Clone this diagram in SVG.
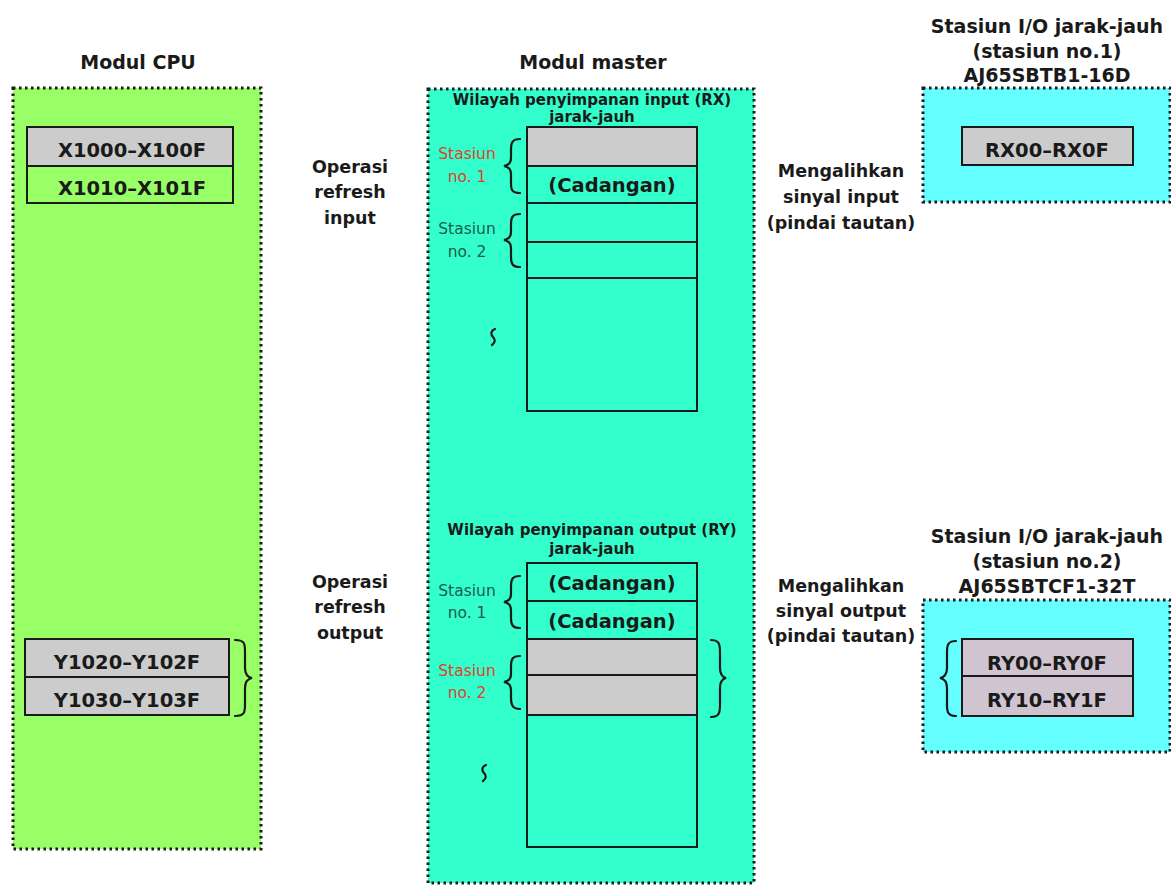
<svg xmlns="http://www.w3.org/2000/svg" width="1171" height="885" viewBox="0 0 1171 885">
<style>
text{font-family:"DejaVu Sans","Liberation Sans",sans-serif;fill:#1a1a1a;text-anchor:middle}
.t{font-weight:bold;font-size:19px}
.b{font-weight:bold;font-size:19.5px}
.h{font-weight:bold;font-size:17.5px}
.w{font-weight:bold;font-size:15px}
.s{font-size:15.5px}
.red{fill:#e0402c}
.tl{fill:#1d5a4e}
.frame{stroke:#1a1a1a;stroke-width:3;stroke-dasharray:2.5 3.5}
.cell{stroke:#1a1a1a;stroke-width:2}
.gray{fill:#cccccc}
.brace{fill:none;stroke:#1a1a1a;stroke-width:2.2;stroke-linecap:round}
</style>
<rect width="1171" height="885" fill="#ffffff"/>

<g id="cpu">
<text class="t" x="138" y="69">Modul CPU</text>
<rect class="frame" x="13" y="88" width="248" height="761" fill="#99ff66"/>
<rect class="cell gray" x="27" y="127" width="206" height="39"/>
<rect class="cell" x="27" y="166" width="206" height="37" fill="#99ff66"/>
<text class="b" x="132" y="157">X1000–X100F</text>
<text class="b" x="132" y="195">X1010–X101F</text>
<rect class="cell gray" x="25" y="639" width="204" height="38"/>
<rect class="cell gray" x="25" y="677" width="204" height="38"/>
<text class="b" x="127" y="669">Y1020–Y102F</text>
<text class="b" x="127" y="707">Y1030–Y103F</text>
<path class="brace" d="M235,640 C245,640 245,644 245,652 L245,668 C245,674 247,677 252,678 C247,679 245,682 245,688 L245,704 C245,712 245,716 235,716"/>
</g>

<g id="labels-refresh">
<text class="h" x="350" y="173">Operasi</text>
<text class="h" x="350" y="198">refresh</text>
<text class="h" x="350" y="224">input</text>
<text class="h" x="350" y="588">Operasi</text>
<text class="h" x="350" y="613">refresh</text>
<text class="h" x="350" y="639">output</text>
</g>

<g id="master">
<text class="t" x="593" y="69">Modul master</text>
<rect class="frame" x="428" y="89" width="326" height="794" fill="#33ffcc"/>
</g>

<g id="rx-area">
<text class="w" x="592" y="105">Wilayah penyimpanan input (RX)</text>
<text class="w" x="592" y="122">jarak-jauh</text>
<rect class="cell gray" x="527" y="127" width="170" height="39"/>
<rect class="cell" x="527" y="166" width="170" height="37" fill="none"/>
<rect class="cell" x="527" y="203" width="170" height="39" fill="none"/>
<rect class="cell" x="527" y="242" width="170" height="36" fill="none"/>
<rect class="cell" x="527" y="278" width="170" height="133" fill="none"/>
<text class="b" x="612" y="192">(Cadangan)</text>
<text class="s red" x="467" y="159">Stasiun</text>
<text class="s red" x="467" y="182">no. 1</text>
<text class="s tl" x="467" y="234">Stasiun</text>
<text class="s tl" x="467" y="257">no. 2</text>
<path class="brace" d="M520,139 C512,139 511,143 511,150 L511,158 C511,162 509,165 504,166 C509,167 511,170 511,174 L511,183 C511,190 512,193 520,193"/>
<path class="brace" d="M520,214 C512,214 511,218 511,224 L511,232 C511,236 509,239 504,240 C509,241 511,244 511,248 L511,257 C511,263 512,267 520,267"/>
<path class="brace" d="M495,329 C490,331 491,335 493,337 C495,339 496,342 492,345"/>
</g>

<g id="ry-area">
<text class="w" x="592" y="535">Wilayah penyimpanan output (RY)</text>
<text class="w" x="592" y="554">jarak-jauh</text>
<rect class="cell" x="527" y="563" width="170" height="38" fill="none"/>
<rect class="cell" x="527" y="601" width="170" height="38" fill="none"/>
<rect class="cell gray" x="527" y="639" width="170" height="36"/>
<rect class="cell gray" x="527" y="675" width="170" height="40"/>
<rect class="cell" x="527" y="715" width="170" height="132" fill="none"/>
<text class="b" x="612" y="590">(Cadangan)</text>
<text class="b" x="612" y="628">(Cadangan)</text>
<text class="s tl" x="467" y="596">Stasiun</text>
<text class="s tl" x="467" y="618">no. 1</text>
<text class="s red" x="467" y="676">Stasiun</text>
<text class="s red" x="467" y="698">no. 2</text>
<path class="brace" d="M520,576 C512,576 511,580 511,586 L511,594 C511,598 509,601 504,602 C509,603 511,606 511,610 L511,618 C511,624 512,628 520,628"/>
<path class="brace" d="M520,656 C512,656 511,660 511,666 L511,674 C511,678 509,681 504,682 C509,683 511,686 511,690 L511,698 C511,704 512,709 520,709"/>
<path class="brace" d="M711,640 C719,640 720,644 720,652 L720,668 C720,674 722,677 726,678 C722,679 720,682 720,688 L720,705 C720,713 719,717 711,717"/>
<path class="brace" d="M486,765 C481,767 482,771 484,773 C486,775 487,778 483,781"/>
</g>

<g id="labels-scan">
<text class="h" x="841" y="177">Mengalihkan</text>
<text class="h" x="841" y="203">sinyal input</text>
<text class="h" x="841" y="229">(pindai tautan)</text>
<text class="h" x="841" y="592">Mengalihkan</text>
<text class="h" x="841" y="617">sinyal output</text>
<text class="h" x="841" y="642">(pindai tautan)</text>
</g>

<g id="station1">
<text class="t" x="1047" y="33">Stasiun I/O jarak-jauh</text>
<text class="t" x="1047" y="58">(stasiun no.1)</text>
<text class="t" x="1047" y="82">AJ65SBTB1-16D</text>
<rect class="frame" x="923" y="88" width="247" height="114" fill="#66ffff"/>
<rect class="cell gray" x="962" y="127" width="171" height="38"/>
<text class="b" x="1047" y="157">RX00–RX0F</text>
</g>

<g id="station2">
<text class="t" x="1047" y="543">Stasiun I/O jarak-jauh</text>
<text class="t" x="1047" y="568">(stasiun no.2)</text>
<text class="t" x="1047" y="593">AJ65SBTCF1-32T</text>
<rect class="frame" x="923" y="600" width="247" height="152" fill="#66ffff"/>
<rect class="cell" x="962" y="639" width="171" height="37" fill="#d0c4d0"/>
<rect class="cell" x="962" y="676" width="171" height="40" fill="#d0c4d0"/>
<text class="b" x="1047" y="670">RY00–RY0F</text>
<text class="b" x="1047" y="707">RY10–RY1F</text>
<path class="brace" d="M956,641 C948,641 947,645 947,652 L947,668 C947,674 945,677 940,678 C945,679 947,682 947,688 L947,705 C947,712 948,716 956,716"/>
</g>

<g id="connectors"></g>
</svg>
